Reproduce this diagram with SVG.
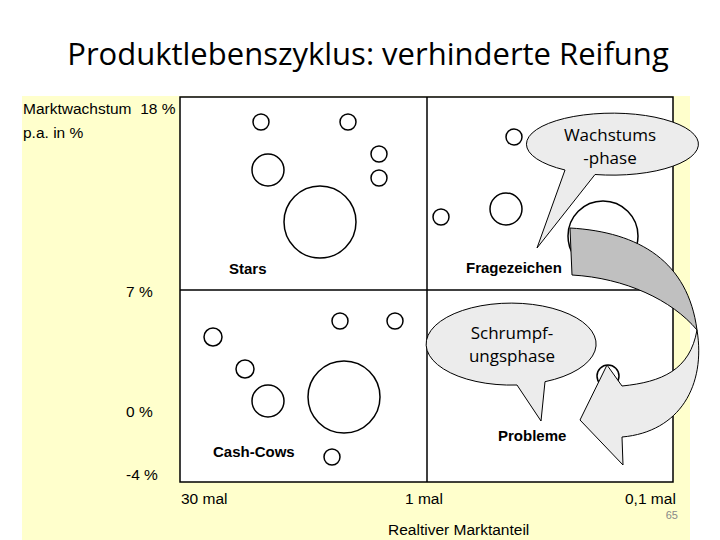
<svg xmlns="http://www.w3.org/2000/svg" width="720" height="540" viewBox="0 0 720 540">
<style>
.c{fill:#fff;stroke:#000;stroke-width:1.5}
.t{font-family:"Liberation Sans",Arial,sans-serif;font-size:15.5px;fill:#000;white-space:pre}
.b{font-family:"Liberation Sans",Arial,sans-serif;font-size:15px;font-weight:bold;fill:#000}
.s{font-family:"Open Sans","Liberation Sans",sans-serif;font-size:17px;fill:#000}
.bub{fill:#ececec;stroke:#000;stroke-width:1}
</style>
<rect width="720" height="540" fill="#fff"/>
<text x="368" y="65" text-anchor="middle" style="font-family:'Open Sans','Liberation Sans',sans-serif;font-size:31px">Produktlebenszyklus: verhinderte Reifung</text>
<rect x="22" y="96" width="668" height="444" fill="#ffffcc"/>
<g id="grid">
<rect x="180" y="97" width="493" height="385" fill="#fff" stroke="#000" stroke-width="1.5"/>
<line x1="427" y1="97" x2="427" y2="482" stroke="#000" stroke-width="1.5"/>
<line x1="180" y1="290" x2="673" y2="290" stroke="#000" stroke-width="1.5"/>
</g>
<g id="axes">
<text class="t" x="23" y="114">Marktwachstum  18 %</text>
<text class="t" x="23" y="138">p.a. in %</text>
<text class="t" x="126" y="297">7 %</text>
<text class="t" x="126" y="417">0 %</text>
<text class="t" x="126" y="480">-4 %</text>
<text class="t" x="181" y="504">30 mal</text>
<text class="t" x="405" y="504">1 mal</text>
<text class="t" x="625" y="504">0,1 mal</text>
<text class="t" x="388" y="535">Realtiver Marktanteil</text>
<text x="678" y="519" text-anchor="end" style="font-family:'Liberation Sans',sans-serif;font-size:11px;fill:#888">65</text>
</g>
<g id="stars">
<circle class="c" cx="261" cy="122" r="8"/><circle class="c" cx="348" cy="122" r="8"/>
<circle class="c" cx="268" cy="170" r="16"/><circle class="c" cx="379" cy="154" r="8"/>
<circle class="c" cx="379" cy="178" r="8"/><circle class="c" cx="320" cy="222" r="36"/>
<text class="b" x="229" y="274">Stars</text>
</g>
<g id="cashcows">
<circle class="c" cx="213" cy="337" r="9"/><circle class="c" cx="340" cy="321" r="8"/>
<circle class="c" cx="395" cy="321" r="8"/><circle class="c" cx="245" cy="369" r="9"/>
<circle class="c" cx="268" cy="401" r="16"/><circle class="c" cx="344" cy="397" r="36"/>
<circle class="c" cx="332" cy="457" r="8"/>
<text class="b" x="213" y="457">Cash-Cows</text>
</g>
<g id="fragezeichen">
<circle class="c" cx="514" cy="137" r="8"/><circle class="c" cx="441" cy="217" r="8"/>
<circle class="c" cx="506" cy="209" r="16"/><circle class="c" cx="603" cy="236" r="35"/>
<text class="b" x="466" y="273">Fragezeichen</text>
</g>
<g id="probleme">
<circle class="c" cx="608" cy="376" r="11"/>
<text class="b" x="498" y="441">Probleme</text>
</g>
<g id="connectors">
<path d="M570,228 C640,232 688,262 697,330 C672,300 625,278 572,275 Z" fill="#c0c0c0" stroke="#000" stroke-width="1"/>
<path d="M697,330 C706,385 680,432 622,437 L623,465 L580,420 L607,365 L622,386 C662,382 690,370 697,330 Z" fill="#ececec" stroke="#000" stroke-width="1"/>
</g>
<g id="wachstum">
<path class="bub" d="M565,170 A86,31 0 1 1 595,174.5 L537,248 Z"/>
<text class="s" x="610" y="141" text-anchor="middle">Wachstums</text>
<text class="s" x="610" y="164" text-anchor="middle">-phase</text>
</g>
<g id="schrumpf">
<path class="bub" d="M545,381.7 A85,41 0 1 0 517,385 L541,421 Z"/>
<text class="s" x="512" y="339" text-anchor="middle">Schrumpf-</text>
<text class="s" x="512" y="362" text-anchor="middle">ungsphase</text>
</g>
</svg>
